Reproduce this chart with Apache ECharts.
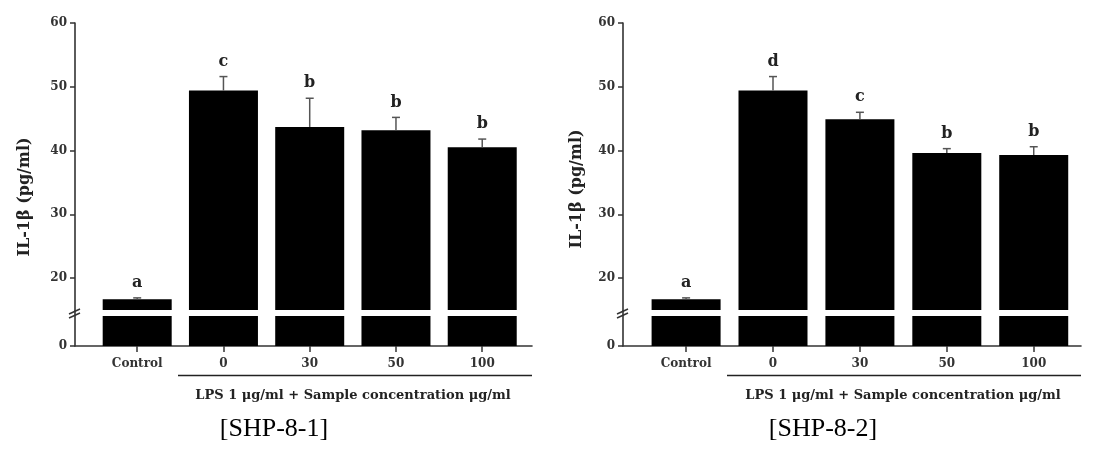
<!DOCTYPE html>
<html>
<head>
<meta charset="utf-8">
<script src="https://cdn.jsdelivr.net/npm/echarts@6/dist/echarts.min.js"></script>
<style>
html,body{margin:0;padding:0;background:#fff;}
#c{width:1099px;height:453px;}
</style>
</head>
<body>
<div id="c"></div>
<script>
// ---- data ----
const categories = ['Control', '0', '30', '50', '100'];
const yTickValues = [20, 30, 40, 50, 60];
const means1 = [16.7, 49.4, 43.7, 43.2, 40.5];
const errTop1 = [16.9, 51.6, 48.2, 45.2, 41.8];
const letters1 = ['a', 'c', 'b', 'b', 'b'];
const means2 = [16.7, 49.4, 44.9, 39.6, 39.3];
const errTop2 = [16.9, 51.6, 46.0, 40.3, 40.6];
const letters2 = ['a', 'd', 'c', 'b', 'b'];
const yTitle = 'IL-1β (pg/ml)';
const xTitle = 'LPS 1 μg/ml + Sample concentration μg/ml';
const panelNames = ['[SHP-8-1]', '[SHP-8-2]'];

// ---- layout ----
const TOP = 23, UPPER_BOTTOM = 310, LOWER_TOP = 316, AXIS_Y = 346;
const panels = [
  {left: 75, right: 532, xmin: -0.721, xmax: 4.577, means: means1, errs: errTop1, letters: letters1,
   yTitleX: 25, yTitleY: 197, xTitleX: 353, lineStart: 178, nameX: 274},
  {left: 623, right: 1081, xmin: -0.726, xmax: 4.544, means: means2, errs: errTop2, letters: letters2,
   yTitleX: 577, yTitleY: 189, xTitleX: 903, lineStart: 727, nameX: 823}
];
const FONT = 'DejaVu Serif';
const AX = '#333';

const grids = [], xAxes = [], yAxes = [], series = [], graphics = [];

panels.forEach((p, i) => {
  const gU = grids.length;
  grids.push({left: p.left, width: p.right - p.left, top: TOP, height: UPPER_BOTTOM - TOP, containLabel: false});
  const gL = grids.length;
  grids.push({left: p.left, width: p.right - p.left, top: LOWER_TOP, height: AXIS_Y - LOWER_TOP, containLabel: false});

  // upper x (hidden)
  xAxes.push({gridIndex: gU, type: 'value', min: p.xmin, max: p.xmax, show: false});
  // lower x (visible)
  xAxes.push({
    gridIndex: gL, type: 'value', min: p.xmin, max: p.xmax, position: 'bottom',
    axisLine: {show: true, onZero: false, lineStyle: {color: AX, width: 1.6}},
    axisTick: {show: true, length: 6, customValues: [0, 1, 2, 3, 4], lineStyle: {color: AX, width: 1.5}},
    axisLabel: {show: true, customValues: [0, 1, 2, 3, 4], margin: 12,
      formatter: v => categories[Math.round(v)],
      fontFamily: FONT, fontWeight: 'bold', fontSize: 12, color: AX},
    splitLine: {show: false}
  });
  const xU = xAxes.length - 2, xL = xAxes.length - 1;

  yAxes.push({
    gridIndex: gU, type: 'value', min: 15, max: 60, position: 'left',
    axisLine: {show: true, onZero: false, lineStyle: {color: AX, width: 1.6}},
    axisTick: {show: true, length: 5, customValues: yTickValues, lineStyle: {color: AX, width: 1.5}},
    axisLabel: {show: true, customValues: yTickValues, margin: 8,
      fontFamily: FONT, fontWeight: 'bold', fontSize: 12, color: AX},
    splitLine: {show: false}
  });
  yAxes.push({
    gridIndex: gL, type: 'value', min: 0, max: 4.7, position: 'left',
    axisLine: {show: true, onZero: false, lineStyle: {color: AX, width: 1.6}},
    axisTick: {show: true, length: 5, customValues: [0], lineStyle: {color: AX, width: 1.5}},
    axisLabel: {show: true, customValues: [0], margin: 8,
      fontFamily: FONT, fontWeight: 'bold', fontSize: 12, color: AX},
    splitLine: {show: false}
  });
  const yU = yAxes.length - 2, yL = yAxes.length - 1;

  const barData = p.means.map((v, k) => [k, v]);
  series.push({type: 'bar', xAxisIndex: xU, yAxisIndex: yU, data: barData, barWidth: 69,
    itemStyle: {color: '#000'}, clip: true, silent: true, z: 2});
  series.push({type: 'bar', xAxisIndex: xL, yAxisIndex: yL, data: barData, barWidth: 69,
    itemStyle: {color: '#000'}, clip: true, silent: true, z: 2});

  series.push({
    type: 'custom', xAxisIndex: xU, yAxisIndex: yU, z: 3, silent: true,
    data: p.means.map((v, k) => [k, v, p.errs[k]]),
    renderItem: (params, api) => {
      const x = api.value(0);
      const base = api.coord([x, api.value(1)]);
      const top = api.coord([x, api.value(2)]);
      const letter = p.letters[params.dataIndex];
      return {
        type: 'group',
        children: [
          {type: 'line', shape: {x1: base[0], y1: base[1], x2: top[0], y2: top[1]},
           style: {stroke: '#555', lineWidth: 1.5}},
          {type: 'line', shape: {x1: top[0] - 4, y1: top[1], x2: top[0] + 4, y2: top[1]},
           style: {stroke: '#555', lineWidth: 1.5}},
          {type: 'text', style: {x: top[0], y: top[1] - 7, text: letter, textAlign: 'center',
            textVerticalAlign: 'bottom', fontFamily: FONT, fontWeight: 'bold', fontSize: 16, fill: '#222'}}
        ]
      };
    }
  });

  // axis break marks
  graphics.push({type: 'line', shape: {x1: p.left, y1: UPPER_BOTTOM, x2: p.left, y2: LOWER_TOP},
    style: {stroke: AX, lineWidth: 1.6}, z: 10});
  graphics.push({type: 'line', shape: {x1: p.left - 6, y1: 314, x2: p.left + 5, y2: 309},
    style: {stroke: AX, lineWidth: 1.5}, z: 10});
  graphics.push({type: 'line', shape: {x1: p.left - 6, y1: 318, x2: p.left + 5, y2: 313},
    style: {stroke: AX, lineWidth: 1.5}, z: 10});

  // y title
  graphics.push({type: 'text', x: p.yTitleX, y: p.yTitleY, rotation: Math.PI / 2,
    style: {text: yTitle, textAlign: 'center', textVerticalAlign: 'middle',
      fontFamily: FONT, fontWeight: 'bold', fontSize: 16, fill: '#222'}});
  // x title + underline
  graphics.push({type: 'line', shape: {x1: p.lineStart, y1: 375.5, x2: p.right, y2: 375.5},
    style: {stroke: '#222', lineWidth: 1.6}});
  graphics.push({type: 'text', style: {x: p.xTitleX, y: 396, text: xTitle, textAlign: 'center',
    textVerticalAlign: 'middle', fontFamily: FONT, fontWeight: 'bold', fontSize: 13, fill: '#222'}});
  // panel name
  graphics.push({type: 'text', style: {x: p.nameX, y: 429, text: panelNames[i], textAlign: 'center',
    textVerticalAlign: 'middle', fontFamily: 'Liberation Serif', fontSize: 26, fill: '#000'}});
});

const chart = echarts.init(document.getElementById('c'), null, {renderer: 'canvas'});
chart.setOption({
  animation: false,
  backgroundColor: '#fff',
  grid: grids,
  xAxis: xAxes,
  yAxis: yAxes,
  series: series,
  graphic: graphics
});
</script>
</body>
</html>
